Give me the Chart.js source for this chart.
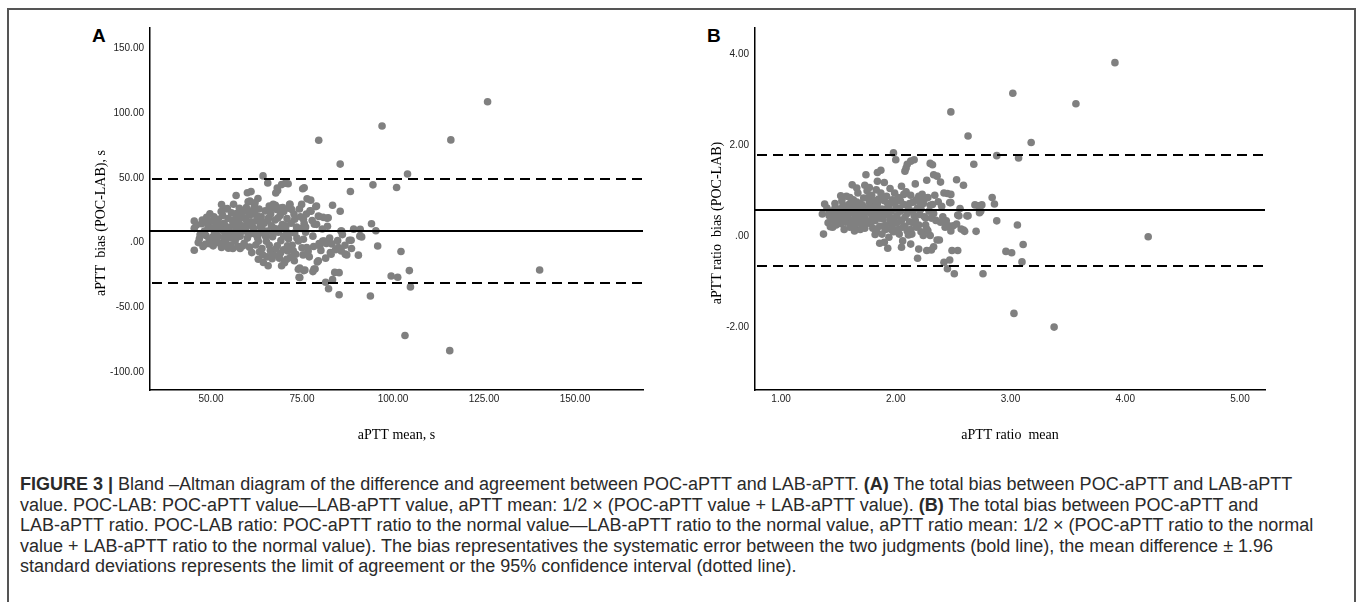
<!DOCTYPE html>
<html>
<head>
<meta charset="utf-8">
<script src="https://cdn.jsdelivr.net/npm/chart.js@4.4.1/dist/chart.umd.min.js"></script>
<style>
  body { margin: 0; background: #fff; width: 1357px; height: 602px; overflow: hidden; position: relative; font-family: "Liberation Sans", Arial, sans-serif; }
  .frame { position: absolute; left: 7px; top: 8px; width: 1349px; height: 700px; border: 2px solid #555; box-sizing: border-box; }
  .panel { position: absolute; }
  .tag { position: absolute; font: bold 19px "Liberation Sans", Arial, sans-serif; color: #000; line-height: 1; }
  .caption { position: absolute; left: 20px; top: 474px; font-size: 18px; line-height: 20.5px; color: #2a2a2a; white-space: nowrap; }
</style>
</head>
<body>
<div class="frame"></div>
<div class="tag" style="left:92px; top:26px;">A</div>
<div class="tag" style="left:707px; top:26px;">B</div>
<canvas id="chartA" class="panel" width="620" height="434" style="left:40px; top:16px;"></canvas>
<canvas id="chartB" class="panel" width="600" height="434" style="left:680px; top:16px;"></canvas>
<div class="caption">
  <div><b>FIGURE 3 |</b> Bland –Altman diagram of the difference and agreement between POC-aPTT and LAB-aPTT. <b>(A)</b> The total bias between POC-aPTT and LAB-aPTT</div>
  <div>value. POC-LAB: POC-aPTT value—LAB-aPTT value, aPTT mean: 1/2 × (POC-aPTT value + LAB-aPTT value). <b>(B)</b> The total bias between POC-aPTT and</div>
  <div>LAB-aPTT ratio. POC-LAB ratio: POC-aPTT ratio to the normal value—LAB-aPTT ratio to the normal value, aPTT ratio mean: 1/2 × (POC-aPTT ratio to the normal</div>
  <div>value + LAB-aPTT ratio to the normal value). The bias representatives the systematic error between the two judgments (bold line), the mean difference ± 1.96</div>
  <div>standard deviations represents the limit of agreement or the 95% confidence interval (dotted line).</div>
</div>
<script>
// panel A: aPTT mean (x) vs bias POC-LAB (y), seconds
const pointsA = [
  [126,108.7],[97,90],[79.6,79],[115.9,79.3],[85.5,60.6],[104,53],[64.3,51.5],[65.6,46],[94.5,44.6],[101,42.6],
  [88.3,39.5],[68.2,42.2],[67.8,38.3],[70.4,45.8],[71.2,45.5],[56.9,36.4],[60,38.5],[61,39.4],[75.2,41.6],[75.6,42.4],
  [76.4,33.8],[77.4,32.8],[83.4,28.8],[85.5,24.2],[71.6,29.6],[71.4,26.6],[52.9,29.4],[54.5,26.3],[77.2,24.6],[78.8,27.8],
  [67.7,28.8],[68.9,26.6],[75.4,18],[79.7,20.2],[80.8,19.5],[81.9,18.8],[82,12.6],[78.4,14.2],[94.1,14.6],[95.3,9.2],
  [91,10.2],[89.2,10.4],[85.7,8.9],[86.1,6.2],[88,1.8],[95.8,-2.6],[90.9,5],[79.7,-0.8],[80.7,1.3],[81.7,-0.6],
  [83.2,-1],[85,-3.8],[85.8,-6.4],[86.9,-8.9],[82.8,-7.7],[83,-9],[76.3,-3.8],[76.5,-8.4],[90.5,-9.7],[102.2,-6.9],
  [79.2,-15],[78.3,-20.4],[78,-22.4],[74,-20.6],[75.5,-21.6],[74.2,-26.8],[81.5,-30.6],[82.3,-35.6],[83.4,-28.6],[84,-23],
  [85.2,-23.2],[85.2,-40.3],[93.8,-41.2],[99.5,-25.8],[101.3,-26.8],[104.5,-21.6],[104.8,-34.2],[140.3,-21.2],[103.3,-71.7],[115.6,-83.4],
  [45.4,-5.9],[45.4,16.7],[45.4,11],[46,13.5],[46.5,0],[47.4,14.6],[48.2,9],[48.4,-1.3],[47.6,17.5],[48.6,5.5],
  [49.7,22.3],[49.7,-0.8],[48.8,19.5],[49.2,12],[50.2,16.5],[50.6,-2.5],[51,8],[51.3,13],[51.6,2],[50.8,20],
  [52,18],[52.2,11],[51.8,5.5],[52.6,-1],[52.9,-3.8],[53.2,21],[53.6,15],[53.8,7],[54,1.5],[54.4,12],
  [54.8,-4.3],[54.7,18.6],[55,9.5],[55.3,4],[55.6,23],[55.4,-1.8],[54.1,26],[56,14],[56.3,7.2],[56.6,1],
  [56.9,19],[57.2,11],[57.5,-3],[57.8,26.5],[57.6,16],[58,5],[58.3,22],[56.2,29.6],[58.5,13],[58.9,9],
  [59.1,-0.5],[59.4,18.5],[59.7,27],[60,3.5],[60.2,31.5],[60.4,14.5],[60.7,32],[60.8,21.5],[61,7],[61.2,-7.7],
  [59.6,11.4],[61.5,25],[61.8,10.5],[62.1,30.7],[62.3,-1.8],[62.5,17],[62.8,3.8],[63,-12.8],[63.2,26],[63.5,12.5],
  [63.8,20],[64,-4.5],[63.6,7.5],[62.9,34],[64.4,-15.3],[64.6,15],[64.9,24.5],[65.2,1],[65.5,9],[65.7,-17.9],
  [65.8,19],[66,28.2],[66.3,-6],[66.6,13],[66.9,4.5],[67.1,29.5],[67.2,-9.5],[66.4,22],[67.6,17.5],[68,25.6],
  [68.2,-2.5],[68.5,8],[68.8,-12],[69,21],[69.2,1.5],[69.4,-17.9],[69.6,14],[69.9,-5.5],[70,24],[68.3,40.2],
  [69.4,44.8],[70.8,-12.8],[70.5,10],[70.9,18.5],[71.1,-6.4],[71.3,3],[71.7,29.5],[71.8,-11.5],[72,15],[72.3,-2],
  [72.6,-6.4],[72.8,22],[73,7.5],[73.3,-9],[73.5,12],[74,1.3],[74.3,26],[74.4,-19.7],[74.6,20],[74.9,29.5],
  [75,-4],[75.4,2.6],[75.8,-21.2],[75.6,15],[76,8],[76.7,-6.4],[77.5,24.3],[74.4,-26.9],[79,28.2],[79.5,-14],
  [78.6,-20.4],[79.9,-2.5],[79,14.1],[79.5,20.5],[82.2,19.2],[88.5,1.8],[91.4,4.4],[87.3,-9.5],[81.1,1.3],[85.9,9],
  [47,6],[50,11],[53,10],[57,8],[61,16],[64,11],[67,6],[70,5],[73,18],[60,24],
  [57,22.5],[62,22],[65,5],[69,11],[58,-4.5],[63,1],[66,-2],[71,-2.5],[76,12],[78,5],
  [46.8,3],[47.8,-3],[49,15.5],[49.5,2.5],[50.5,4.5],[50.9,-0.5],[51.5,17],[52.5,14],[52.8,24],[53.5,3.5],
  [53.9,-1],[54.6,5.5],[55.8,17.5],[56,-4.5],[56.8,11.5],[57.1,4],[57.9,19.5],[58.4,9.5],[58.8,-2.5],[59.2,24.5],
  [59.9,16.5],[60.3,6],[60.6,-3.5],[61.4,12.5],[61.9,28],[62.2,6.5],[62.7,20.5],[63.3,-7],[63.9,16.5],[64.2,-9.5],
  [64.8,7],[65.4,-11],[65.6,17],[66.2,25],[66.8,-12.5],[67.4,11],[67.8,-5],[68.4,19],[69.1,-8],[69.7,27],
  [70.2,-15.5],[70.6,13],[71.5,7],[72.2,25.5],[72.9,-14],[73.6,3.5],[74.7,11],[75.3,-9.5],[76.2,22],[77,-11],
  [77.8,17],[78.2,-3],[80.2,-6],[80.6,10.5],[81.5,-12],[82.6,3.5],[84.2,-5.5],[84.8,1.5],[86.8,-2],[88.6,-4.5]
];
const xTicksA = [50, 75, 100, 125, 150];
const yTicksA = [-100, -50, 0, 50, 100, 150];
const biasA = 8.8;
const limitsA = [49.0, -31.4];

// panel B: aPTT ratio mean (x) vs ratio bias POC-LAB (y)
const pointsB = [
  [3.91,3.81],[3.02,3.14],[3.57,2.91],[2.48,2.73],[2.63,2.2],[3.18,2.06],[2.88,1.77],[3.07,1.72],[2.68,1.58],[1.98,1.83],
  [2.0,1.68],[2.09,1.5],[2.1,1.58],[2.13,1.65],[2.16,1.68],[2.08,1.43],[2.30,1.6],[2.32,1.57],[2.33,1.35],[2.36,1.32],
  [2.27,1.23],[2.39,1.19],[2.53,1.24],[2.59,1.12],[1.84,1.4],[1.87,1.45],[1.74,1.35],[1.62,1.13],[1.66,1.06],[1.73,1.12],
  [1.77,1.07],[1.84,1.21],[1.9,1.18],[1.52,0.89],[1.38,0.71],[1.36,0.49],[1.37,0.05],[1.45,0.2],[1.43,0.21],[2.84,0.85],
  [2.86,0.71],[2.69,0.69],[2.72,0.67],[2.75,0.69],[2.74,0.55],[2.62,0.45],[2.54,0.47],[2.56,0.61],[2.48,0.92],[2.45,0.94],
  [2.42,0.95],[2.48,0.74],[2.88,0.34],[3.06,0.25],[2.70,0.11],[2.60,0.11],[2.57,0.16],[2.48,0.12],[2.5,0.23],[2.53,0.27],
  [2.38,-0.08],[2.31,-0.3],[2.27,-0.31],[2.33,-0.23],[2.2,-0.28],[2.19,-0.48],[2.13,-0.17],[2.05,-0.24],[1.86,-0.15],[1.9,-0.13],
  [1.93,-0.26],[1.82,0.04],[2.42,-0.57],[2.45,-0.71],[2.47,-0.52],[2.51,-0.82],[2.49,-0.31],[2.54,-0.31],[2.76,-0.82],[2.96,-0.33],
  [3.01,-0.36],[3.11,-0.18],[3.10,-0.56],[4.20,-0.01],[3.03,-1.69],[3.38,-1.99],
  [1.4,0.62],[1.42,0.45],[1.44,0.55],[1.46,0.35],[1.47,0.72],[1.48,0.25],[1.5,0.6],[1.49,0.44],[1.41,0.3],[1.51,0.5],
  [1.52,0.28],[1.53,0.78],[1.54,0.38],[1.55,0.62],[1.56,0.31],[1.57,0.88],[1.58,0.46],[1.59,0.7],[1.6,0.2],[1.55,0.15],
  [1.61,0.55],[1.62,0.36],[1.63,0.8],[1.64,0.23],[1.65,0.65],[1.66,0.45],[1.67,0.95],[1.68,0.3],[1.69,0.72],[1.7,0.52],
  [1.64,0.12],[1.71,0.2],[1.72,0.84],[1.73,0.4],[1.74,0.62],[1.75,1.0],[1.76,0.3],[1.77,0.75],[1.78,0.5],[1.79,0.9],
  [1.8,0.18],[1.73,0.18],[1.76,0.55],[1.81,0.65],[1.82,0.35],[1.83,1.02],[1.84,0.5],[1.85,0.82],[1.86,0.22],[1.87,0.95],
  [1.88,0.6],[1.89,0.38],[1.9,0.78],[1.83,0.12],[1.88,0.05],[1.91,0.25],[1.92,0.88],[1.93,0.48],[1.94,0.68],[1.95,1.05],
  [1.96,0.15],[1.97,0.8],[1.98,0.4],[1.99,0.95],[2.0,0.6],[1.94,-0.02],[1.98,0.1],[2.01,0.3],[2.02,0.85],[2.03,0.05],
  [2.04,0.55],[2.05,1.1],[2.06,0.2],[2.07,0.7],[2.08,0.42],[2.09,0.98],[2.1,0.12],[2.06,-0.1],[2.04,0.78],[2.11,0.6],
  [2.12,0.32],[2.13,0.9],[2.14,0.05],[2.15,0.75],[2.16,0.45],[2.17,1.15],[2.18,0.2],[2.19,0.62],[2.2,0.88],[2.15,0.3],
  [2.21,0.48],[2.22,0.1],[2.23,0.92],[2.24,0.72],[2.25,0.82],[2.26,0.4],[2.27,0.16],[2.28,0.85],[2.29,0.55],[2.3,0.02],
  [2.32,0.7],[2.34,0.9],[2.35,0.35],[2.37,0.76],[2.39,0.31],[2.41,0.43],[2.43,0.2],[2.44,0.34],[2.46,0.23],[2.36,-0.08],
  [2.4,0.66],[2.33,0.5],[2.25,0.43],[2.28,0.12],[2.24,0.02],[2.47,0.74],[2.59,0.14],[2.73,0.52],[2.63,0.45],[2.55,0.45],
  [2.21,0.74],[1.47,0.41],[1.45,0.52],[1.58,0.58],[1.62,0.66],[1.7,0.35],[1.78,0.28],[1.84,0.72],[1.92,0.6],[1.42,0.55],
  [1.44,0.38],[1.47,0.62],[1.5,0.33],[1.53,0.52],[1.54,0.68],[1.57,0.4],[1.59,0.55],[1.6,0.85],[1.61,0.28],[1.63,0.5],
  [1.65,0.35],[1.66,0.75],[1.68,0.58],[1.69,0.15],[1.71,0.68],[1.72,0.45],[1.74,0.28],[1.76,0.85],[1.78,0.62],[1.79,0.38],
  [1.81,0.48],[1.82,0.78],[1.85,0.6],[1.86,0.4],[1.88,0.85],[1.9,0.5],[1.91,0.15],[1.93,0.72],[1.95,0.35],[1.96,0.55],
  [1.97,0.25],[1.99,0.72],[2.01,0.45],[2.02,0.15],[2.03,0.62],[2.05,0.35],[2.07,0.92],[2.08,0.22],[2.1,0.5],[2.12,0.72],
  [2.13,0.15],[2.15,0.55],[2.17,0.35],[2.18,0.8],[2.2,0.25],[2.22,0.6],[2.26,0.25],[2.3,0.68],[2.31,0.4],[2.11,0.03]
];
const xTicksB = [1, 2, 3, 4, 5];
const yTicksB = [-2, 0, 2, 4];
const biasB = 0.57;
const limitsB = [1.79, -0.65];

const fmt = v => v === 0 ? '.00' : Number(v).toFixed(2);

// bias (solid) and limits of agreement (dashed)
const refLines = {
  id: 'refLines',
  afterDatasetsDraw(chart, args, o) {
    const {ctx, chartArea: a, scales: {y}} = chart;
    ctx.save();
    ctx.strokeStyle = '#000';
    ctx.lineWidth = 2;
    let py = Math.round(y.getPixelForValue(o.bias));
    ctx.beginPath(); ctx.moveTo(a.left, py); ctx.lineTo(a.right, py); ctx.stroke();
    ctx.setLineDash([10, 6]);
    o.limits.forEach(v => {
      py = Math.round(y.getPixelForValue(v));
      ctx.beginPath(); ctx.moveTo(a.left + 2, py); ctx.lineTo(a.right, py); ctx.stroke();
    });
    ctx.restore();
  }
};

// y title sits a bit below the middle of the axis in the original
const yTitle = {
  id: 'yTitle',
  afterDraw(chart, args, o) {
    const {ctx, chartArea: a} = chart;
    ctx.save();
    ctx.font = '14px "Liberation Serif", "Times New Roman", serif';
    ctx.fillStyle = '#000';
    ctx.textAlign = 'center';
    ctx.textBaseline = 'middle';
    ctx.translate(o.x, (a.top + a.bottom) / 2 + o.dy);
    ctx.rotate(-Math.PI / 2);
    ctx.fillText(o.text, 0, 0);
    ctx.restore();
  }
};

function makePanel(id, pts, cfg) {
  const tickFont = { family: 'Liberation Sans', size: 10 };
  const titleFont = { family: 'Liberation Serif', size: 14 };
  return new Chart(document.getElementById(id), {
    type: 'scatter',
    data: {
      datasets: [{
        data: pts.map(p => ({ x: p[0], y: p[1] })),
        backgroundColor: '#808080',
        borderWidth: 0,
        pointRadius: 3.8,
        pointHoverRadius: 3.8
      }]
    },
    options: {
      responsive: false,
      devicePixelRatio: 1,
      animation: false,
      events: [],
      layout: { padding: { top: 10, right: cfg.padRight, left: 0, bottom: 0 } },
      plugins: {
        legend: { display: false },
        tooltip: { enabled: false },
        refLines: { bias: cfg.bias, limits: cfg.limits },
        yTitle: { text: cfg.yTitle, x: cfg.yTitleX, dy: 14 }
      },
      scales: {
        x: {
          type: 'linear', min: cfg.xMin, max: cfg.xMax,
          grid: { display: false, drawTicks: false },
          border: { display: true, color: '#000', width: 1.5 },
          afterBuildTicks: s => { s.ticks = cfg.xTicks.map(v => ({ value: v })); },
          afterFit: s => { s.height = cfg.xAxisH; },
          ticks: { callback: fmt, font: tickFont, color: '#222', padding: 3, maxRotation: 0, autoSkip: false },
          title: { display: true, text: cfg.xTitle, font: titleFont, color: '#000', padding: { top: 4, bottom: 6 } }
        },
        y: {
          type: 'linear', min: cfg.yMin, max: cfg.yMax,
          grid: { display: false, drawTicks: false },
          border: { display: true, color: '#000', width: 1.5 },
          afterBuildTicks: s => { s.ticks = cfg.yTicks.map(v => ({ value: v })); },
          afterFit: s => { s.width = cfg.yAxisW; },
          ticks: { callback: fmt, font: tickFont, color: '#222', padding: 6, autoSkip: false }
        }
      }
    },
    plugins: [refLines, yTitle]
  });
}

makePanel('chartA', pointsA, {
  xMin: 33.24, xMax: 168.7, yMin: -113.8, yMax: 165.7,
  xTicks: xTicksA, yTicks: yTicksA, bias: biasA, limits: limitsA,
  xTitle: 'aPTT mean, s', yTitle: 'aPTT  bias (POC-LAB), s', yTitleX: 61,
  padRight: 17, yAxisW: 110, xAxisH: 60
});

makePanel('chartB', pointsB, {
  xMin: 0.773, xMax: 5.218, yMin: -3.37, yMax: 4.57,
  xTicks: xTicksB, yTicks: yTicksB, bias: biasB, limits: limitsB,
  xTitle: 'aPTT ratio  mean', yTitle: 'aPTT ratio  bias (POC-LAB)', yTitleX: 37,
  padRight: 15, yAxisW: 75, xAxisH: 60
});
</script>
</body>
</html>
